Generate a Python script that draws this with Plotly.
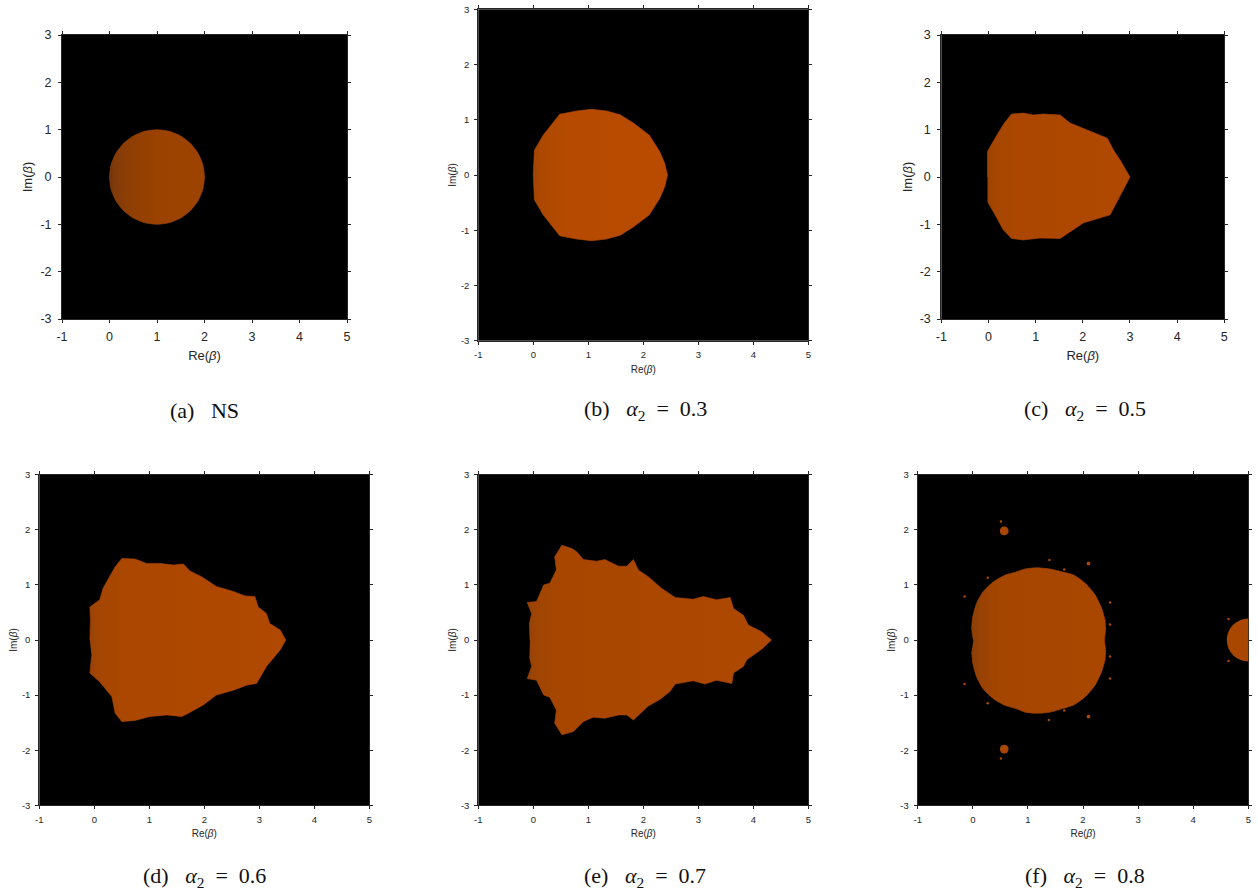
import plotly.graph_objects as go

# ---------------- data ----------------
ticks_re = [-1, 0, 1, 2, 3, 4, 5]
ticks_re_text = ["-1", "0", "1", "2", "3", "4", "5"]
ticks_im = [-3, -2, -1, 0, 1, 2, 3]
ticks_im_text = ["-3", "-2", "-1", "0", "1", "2", "3"]

captions = ["(a)&nbsp;&nbsp;&nbsp;NS",
            "(b)&nbsp;&nbsp;&nbsp;<i>α</i><sub>2</sub>&nbsp;&nbsp;=&nbsp;&nbsp;0.3",
            "(c)&nbsp;&nbsp;&nbsp;<i>α</i><sub>2</sub>&nbsp;&nbsp;=&nbsp;&nbsp;0.5",
            "(d)&nbsp;&nbsp;&nbsp;<i>α</i><sub>2</sub>&nbsp;&nbsp;=&nbsp;&nbsp;0.6",
            "(e)&nbsp;&nbsp;&nbsp;<i>α</i><sub>2</sub>&nbsp;&nbsp;=&nbsp;&nbsp;0.7",
            "(f)&nbsp;&nbsp;&nbsp;<i>α</i><sub>2</sub>&nbsp;&nbsp;=&nbsp;&nbsp;0.8"]

# (a) NS : unit circle around 1
ns_re = [2.0, 1.966, 1.866, 1.707, 1.5, 1.259, 1.0, 0.741, 0.5, 0.293, 0.134, 0.034,
         0.0, 0.034, 0.134, 0.293, 0.5, 0.741, 1.0, 1.259, 1.5, 1.707, 1.866, 1.966, 2.0]
ns_im = [0.0, 0.259, 0.5, 0.707, 0.866, 0.966, 1.0, 0.966, 0.866, 0.707, 0.5, 0.259,
         0.0, -0.259, -0.5, -0.707, -0.866, -0.966, -1.0, -0.966, -0.866, -0.707, -0.5, -0.259, 0.0]

# (b) alpha2 = 0.3
a03_re = [0.0, 0.02, 0.18, 0.48, 0.79, 1.06, 1.33, 1.58, 1.82, 2.11, 2.30, 2.39, 2.44,
          2.39, 2.30, 2.11, 1.82, 1.58, 1.33, 1.06, 0.79, 0.48, 0.18, 0.02, 0.0]
a03_im = [0.0, 0.45, 0.72, 1.10, 1.16, 1.19, 1.16, 1.09, 0.94, 0.72, 0.42, 0.21, 0.0,
          -0.21, -0.42, -0.72, -0.94, -1.09, -1.16, -1.19, -1.16, -1.10, -0.72, -0.45, 0.0]

# (c) alpha2 = 0.5
a05_re = [-0.02, -0.02, 0.14, 0.33, 0.49, 0.74, 0.95, 1.16, 1.52, 1.73, 2.08, 2.52, 2.65, 2.79, 3.0,
          2.86, 2.58, 2.01, 1.52, 1.09, 0.74, 0.49, 0.31, 0.14, -0.02]
a05_im = [0.0, 0.54, 0.82, 1.13, 1.33, 1.35, 1.31, 1.33, 1.31, 1.14, 1.0, 0.82, 0.57, 0.36, 0.0,
          -0.27, -0.80, -0.97, -1.30, -1.29, -1.33, -1.30, -1.11, -0.80, -0.52]

# (d) alpha2 = 0.6
a06_re = [-0.08, -0.07, -0.08, 0.10, 0.16, 0.32, 0.38, 0.50, 0.74, 0.95, 1.19, 1.44, 1.62, 1.74,
          1.95, 2.22, 2.53, 2.74, 2.92, 2.98, 3.13, 3.19, 3.38, 3.48,
          3.38, 3.13, 2.95, 2.77, 2.53, 2.22, 1.98, 1.71, 1.59, 1.32, 1.01, 0.74, 0.50,
          0.38, 0.32, 0.10, -0.08, -0.05]
a06_im = [0.0, 0.36, 0.60, 0.73, 0.94, 1.21, 1.33, 1.48, 1.47, 1.39, 1.39, 1.36, 1.38, 1.25,
          1.15, 0.97, 0.88, 0.80, 0.79, 0.60, 0.48, 0.30, 0.18, 0.0,
          -0.18, -0.48, -0.79, -0.82, -0.91, -1.0, -1.18, -1.33, -1.39, -1.36, -1.39, -1.46, -1.48,
          -1.33, -1.03, -0.76, -0.60, -0.30]

# (e) alpha2 = 0.7
a07_re = [-0.06, -0.07, -0.03, -0.11, 0.06, 0.12, 0.19, 0.30, 0.42, 0.39, 0.52, 0.70, 0.79, 0.91,
          1.15, 1.30, 1.55, 1.70, 1.82, 1.91, 2.09, 2.33, 2.58, 2.91, 3.09, 3.33, 3.58, 3.64,
          3.82, 3.91, 4.15, 4.33,
          4.15, 3.88, 3.82, 3.64, 3.61, 3.33, 3.12, 2.91, 2.58, 2.48, 2.30, 2.09, 1.94, 1.82,
          1.70, 1.55, 1.30, 1.09, 0.91, 0.73, 0.52, 0.39, 0.42, 0.30, 0.19, 0.12, 0.06, -0.11,
          -0.03, -0.07]
a07_im = [0.0, 0.30, 0.48, 0.68, 0.70, 0.85, 1.0, 1.03, 1.27, 1.51, 1.72, 1.66, 1.60, 1.46,
          1.43, 1.46, 1.34, 1.34, 1.46, 1.27, 1.15, 0.94, 0.77, 0.74, 0.79, 0.73, 0.77, 0.57,
          0.45, 0.27, 0.15, 0.0,
          -0.17, -0.36, -0.48, -0.60, -0.79, -0.73, -0.80, -0.74, -0.80, -0.94, -1.08, -1.20, -1.33, -1.45,
          -1.36, -1.36, -1.42, -1.40, -1.48, -1.66, -1.72, -1.51, -1.27, -1.04, -1.0, -0.85, -0.73, -0.70,
          -0.48, -0.30]

# (f) alpha2 = 0.8 : main region
a08_re = [0.01, -0.02, 0.0, 0.07, 0.19, 0.38, 0.59, 0.77, 0.95, 1.16, 1.40, 1.65, 1.83, 2.04,
          2.22, 2.34, 2.40, 2.41, 2.39,
          2.41, 2.40, 2.34, 2.22, 2.04, 1.83, 1.65, 1.40, 1.16, 0.95, 0.77, 0.59, 0.38, 0.19,
          0.07, 0.0, -0.02]
a08_im = [0.0, 0.21, 0.42, 0.67, 0.88, 1.06, 1.18, 1.23, 1.29, 1.31, 1.29, 1.23, 1.18, 1.03,
          0.82, 0.57, 0.36, 0.18, 0.0,
          -0.18, -0.36, -0.57, -0.82, -1.03, -1.18, -1.24, -1.31, -1.33, -1.31, -1.24, -1.19, -1.07, -0.89,
          -0.67, -0.42, -0.21]
# (f) satellite discs: centre and radius
sat_re = [0.57, 0.57, 2.10, 2.10, 5.00]
sat_im = [1.98, -1.98, 1.39, -1.39, 0.00]
sat_r = [0.08, 0.08, 0.035, 0.035, 0.39]
# (f) tiny specks
dot_re = [-0.15, -0.15, 2.49, 2.49, 1.39, 1.38, 0.27, 0.27, 0.51, 0.51, 1.66, 1.66, 4.64, 4.64, 2.49, 2.49]
dot_im = [0.79, -0.80, 0.68, -0.70, 1.45, -1.45, 1.13, -1.15, 2.15, -2.15, 1.28, -1.28, 0.38, -0.38, 0.28, -0.30]

# ---------------- layout helpers ----------------
W, H = 1258, 890
# pixel boxes in page coordinates: (left, right, top, bottom)
boxes = [(62, 347, 35, 319), (478.3, 808.3, 9.3, 340.7), (941.3, 1224.3, 35, 319),
         (39.3, 369.3, 474.7, 805.3), (478.3, 808.3, 474.7, 805.3), (917.7, 1248.3, 474.7, 805.3)]
fonts = [12.5, 9.5, 12.5, 9.5, 9.5, 9.5]
xlab_pad = [3, 2, 3, 2, 2, 2]
ylab_pad = [4, 3, 4, 3, 3, 3]
xtitle_off = [7, 6, 7, 6, 6, 6]
ytitle_off = [4, 2, 4, 2, 2, 2]
cap_pos = [(204, 410), (645, 410), (1085, 410), (204, 877), (645, 877), (1085, 877)]

regions = [(ns_re, ns_im, [[0, "#6a3311"], [0.05, "#803a09"], [0.18, "#8d3e04"], [0.45, "#974100"], [0.5, "#9b4200"], [1, "#9c4300"]], "spline"),
           (a03_re, a03_im, [[0, "#9e4506"], [0.06, "#ad4801"], [0.25, "#b54a00"], [1, "#b94b00"]], "linear"),
           (a05_re, a05_im, [[0, "#9a4307"], [0.05, "#a54602"], [0.2, "#ab4700"], [1, "#b04800"]], "linear"),
           (a06_re, a06_im, [[0, "#974208"], [0.04, "#a44603"], [0.18, "#ab4700"], [1, "#b04800"]], "linear"),
           (a07_re, a07_im, [[0, "#924109"], [0.04, "#a04504"], [0.15, "#a84600"], [1, "#ad4800"]], "linear"),
           (a08_re, a08_im, [[0, "#87400a"], [0.06, "#984205"], [0.2, "#a44500"], [1, "#a94700"]], "spline")]

fig = go.Figure()
axis_color = "#262626"
for i, (re, im, cs, shape) in enumerate(regions):
    n = i + 1
    xa = "x" if n == 1 else f"x{n}"
    ya = "y" if n == 1 else f"y{n}"
    fig.add_trace(go.Scatter(
        x=re, y=im, xaxis=xa, yaxis=ya, mode="lines", fill="toself",
        line=dict(width=0.6, color=cs[-1][1], shape=shape, smoothing=0.6),
        fillgradient=dict(type="horizontal", colorscale=cs, start=min(re), stop=max(re)),
        hoverinfo="skip", showlegend=False))
    l, r, t, b = boxes[i]
    tf = dict(family="Liberation Sans", size=fonts[i], color=axis_color)
    axx = dict(domain=[l / W, r / W], range=[-1, 5], tickvals=ticks_re, ticktext=ticks_re_text,
               showgrid=False, zeroline=False, automargin=False,
               showline=True, linecolor=axis_color, linewidth=1, mirror="ticks", ticks="outside",
               ticklen=3, tickcolor=axis_color, tickfont=tf, ticklabelstandoff=xlab_pad[i],
               title=dict(text="Re(<i>β</i>)", font=dict(family="Liberation Sans", size=fonts[i] + 0.5, color=axis_color),
                          standoff=xtitle_off[i]),
               anchor=ya, fixedrange=True)
    axy = dict(domain=[1 - b / H, 1 - t / H], range=[-3, 3], tickvals=ticks_im, ticktext=ticks_im_text,
               showgrid=False, zeroline=False, automargin=False,
               showline=True, linecolor=axis_color, linewidth=1, mirror="ticks", ticks="outside",
               ticklen=3, tickcolor=axis_color, tickfont=tf, ticklabelstandoff=ylab_pad[i],
               title=dict(text="Im(<i>β</i>)", font=dict(family="Liberation Sans", size=fonts[i] + 0.5, color=axis_color),
                          standoff=ytitle_off[i]),
               anchor=xa, fixedrange=True)
    fig.update_layout(**{("xaxis" if n == 1 else f"xaxis{n}"): axx,
                         ("yaxis" if n == 1 else f"yaxis{n}"): axy})
    cx, cy = cap_pos[i]
    fig.add_annotation(x=cx / W, y=1 - cy / H, xref="paper", yref="paper", text=captions[i],
                       showarrow=False, font=dict(family="Liberation Serif", size=22, color="#111111"),
                       xanchor="center", yanchor="middle")

# satellites in panel (f)
for cx, cy, rr in zip(sat_re, sat_im, sat_r):
    fig.add_shape(type="circle", xref="x6", yref="y6", x0=cx - rr, x1=cx + rr, y0=cy - rr, y1=cy + rr,
                  fillcolor="#a94700", line=dict(width=0), layer="above")
fig.add_trace(go.Scatter(x=dot_re, y=dot_im, xaxis="x6", yaxis="y6", mode="markers",
                         marker=dict(size=2.5, color="#a94700"), hoverinfo="skip", showlegend=False,
                         cliponaxis=True))

fig.update_layout(width=W, height=H, margin=dict(l=0, r=0, t=0, b=0, autoexpand=False),
                  paper_bgcolor="white", plot_bgcolor="black")
fig.write_html("out.html", config={"displayModeBar": False},
               post_script="document.body.style.margin='0px';document.body.style.padding='0px';"
                           "document.documentElement.style.overflow='hidden';")
